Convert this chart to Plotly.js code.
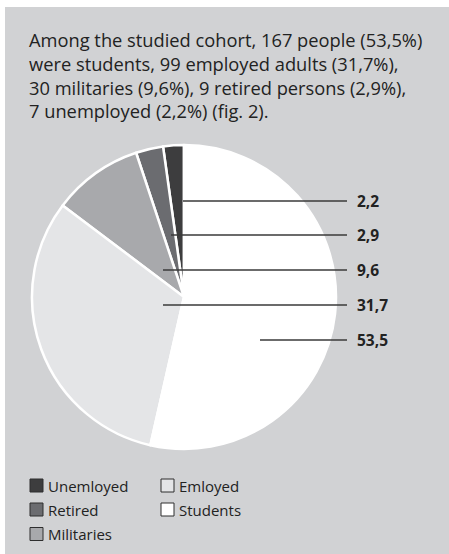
<!DOCTYPE html>
<html>
<head>
<meta charset="utf-8">
<script src="https://cdn.plot.ly/plotly-3.0.1.min.js"></script>
<style>
  html, body { margin: 0; padding: 0; background: #ffffff; }
  #chart { width: 449px; height: 554px; }
</style>
</head>
<body>
<div id="chart"></div>
<script>
// ---- data ----
var categories = ["Unemployed", "Retired", "Militaries", "Employed", "Students"];
var legendLabels = ["Unemloyed", "Retired", "Militaries", "Emloyed", "Students"];
var percents = [2.2, 2.9, 9.6, 31.7, 53.5];
var counts = [7, 9, 30, 99, 167];
var sliceColors = ["#3d3d3e", "#6b6c70", "#a8a9ac", "#e4e5e7", "#ffffff"];
var titleText = "Among the studied cohort, 167 people (53,5%)<br>were students, 99 employed adults (31,7%),<br>30 militaries (9,6%), 9 retired persons (2,9%),<br>7 unemployed (2,2%) (fig. 2).";

var W = 449, H = 554;
function px(x) { return x / W; }
function py(y) { return 1 - y / H; }
function fmt(v) { return v.toFixed(1).replace(".", ","); }
var total = percents.reduce(function (a, b) { return a + b; }, 0);

var trace = {
  type: "pie",
  labels: categories,
  values: percents,
  sort: false,
  direction: "counterclockwise",
  rotation: -360 * percents[0] / total,
  marker: { colors: sliceColors, line: { color: "#ffffff", width: 2.5 } },
  textinfo: "none",
  hoverinfo: "label+value",
  showlegend: false,
  domain: { x: [px(32), px(336)], y: [py(449), py(145)] }
};

var shapes = [{
  type: "rect", xref: "paper", yref: "paper", layer: "below",
  x0: px(5), x1: 1, y0: 0, y1: py(7),
  fillcolor: "#d1d2d4", line: { width: 0 }
}];
var annotations = [];

// leader lines + value labels
var lineStartX = [183, 171, 163, 163, 260];
var rowY = [201, 235, 270, 305, 340];
for (var i = 0; i < percents.length; i++) {
  shapes.push({
    type: "line", xref: "paper", yref: "paper",
    x0: px(lineStartX[i]), x1: px(347), y0: py(rowY[i]), y1: py(rowY[i]),
    line: { color: "#3a3a3a", width: 1.3 }
  });
  annotations.push({
    xref: "paper", yref: "paper", x: px(355), y: py(rowY[i]),
    xanchor: "left", yanchor: "middle", showarrow: false,
    text: "<b>" + fmt(percents[i]) + "</b>",
    font: { family: "Open Sans, sans-serif", size: 15.5, color: "#222222" }
  });
}

// legend (two columns)
var legX = [30, 30, 30, 161, 161];
var legY = [485.5, 509.5, 534, 485.5, 509.5];
for (var j = 0; j < legendLabels.length; j++) {
  shapes.push({
    type: "rect", xref: "paper", yref: "paper",
    x0: px(legX[j]), x1: px(legX[j] + 13), y0: py(legY[j] - 6.5), y1: py(legY[j] + 6.5),
    fillcolor: sliceColors[j], line: { color: "#2e2e2e", width: 1 }
  });
  annotations.push({
    xref: "paper", yref: "paper", x: px(legX[j] + 16), y: py(legY[j]),
    xanchor: "left", yanchor: "middle", showarrow: false,
    text: legendLabels[j],
    font: { family: "Open Sans, sans-serif", size: 15, color: "#222222" }
  });
}

var layout = {
  width: W, height: H,
  margin: { l: 0, r: 0, t: 0, b: 0 },
  paper_bgcolor: "#ffffff",
  title: {
    text: titleText,
    x: px(29), xref: "container", xanchor: "left",
    y: py(47), yref: "container", yanchor: "top",
    font: { family: "Open Sans, sans-serif", size: 18.3, color: "#222222" },
    automargin: false
  },
  shapes: shapes,
  annotations: annotations,
  showlegend: false
};

Plotly.newPlot("chart", [trace], layout, { displayModeBar: false, staticPlot: true });
</script>
</body>
</html>
